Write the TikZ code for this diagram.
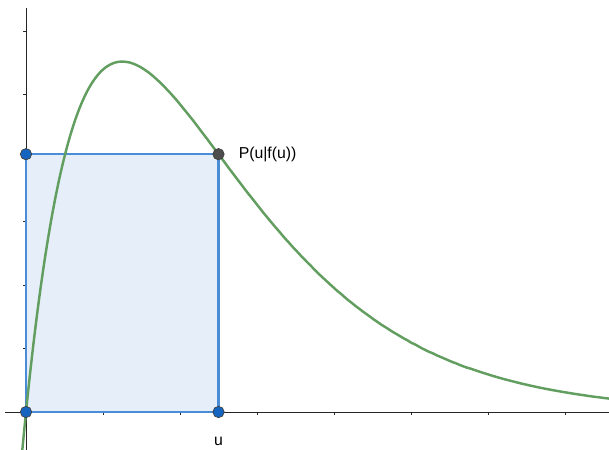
\documentclass[tikz,border=0pt]{standalone}
\usepackage{fontspec}
\setmainfont{Liberation Sans}
\usetikzlibrary{positioning}
\definecolor{curvegreen}{RGB}{98,158,96}
\definecolor{rectblue}{RGB}{74,140,214}
\definecolor{rectfill}{RGB}{230,239,249}
\definecolor{dotblue}{RGB}{21,101,192}
\definecolor{dotgray}{RGB}{77,77,77}
\definecolor{axisgray}{RGB}{37,37,37}

\begin{document}
\begin{tikzpicture}[x=2.31cm, y=1.905cm,
    axis/.style={draw=axisgray, line width=0.6pt},
    area/.style={draw=rectblue, fill=rectfill, line width=1.9pt},
    graph/.style={draw=curvegreen, line width=2.1pt},
    dot/.style={circle, draw=black!75, fill=dotblue, line width=0.6pt,
                inner sep=0pt, minimum size=0.34cm},
    lbl/.style={inner sep=0pt, font=\fontsize{13.5}{16}\selectfont}]
  \useasboundingbox (-0.3377,-0.598) rectangle (7.571,6.488);

  % axes and ticks
  \draw[axis] (-0.273,0) -- (7.571,0);
  \draw[axis] (0,-0.598) -- (0,6.36);
  \foreach \i in {1,...,7}
    \draw[axis] (\i,0) -- ++(0,-0.05);
  \foreach \j in {1,...,6}
    \draw[axis] (0,\j) -- ++(-0.04,0);

  % rectangle under P
  \coordinate (O) at (0,0);
  \coordinate (U) at (2.5,0);
  \coordinate (P) at (2.5,{30*exp(-2)});
  \coordinate (F) at (0,{30*exp(-2)});
  \draw[area] (O) -- (U) -- (P) -- (F) -- cycle;

  % f(x) = 12 x e^{-0.8x}
  \draw[graph, domain=-0.05:7.6, samples=160, smooth]
    plot (\x, {12*\x*exp(-0.8*\x)});

  % points
  \node[dot] (origin) at (O) {};
  \node[dot] (udot) at (U) {};
  \node[dot] (fdot) at (F) {};
  \node[dot, fill=dotgray] (pdot) at (P) {};

  \node[lbl, right=0.42cm of pdot] (plabel) {P(u|f(u))};
  \node[lbl, below=0.58cm of udot] (ulabel) {u};
\end{tikzpicture}
\end{document}
